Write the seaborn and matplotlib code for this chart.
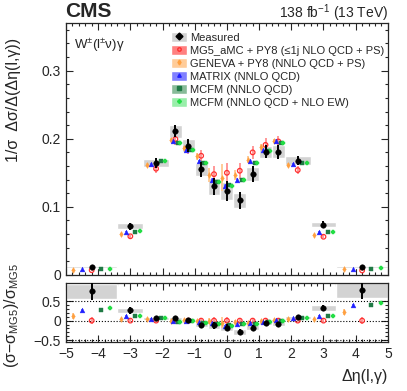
import seaborn as sns
import matplotlib.pyplot as plt
import numpy as np
from matplotlib.patches import Patch
from matplotlib.lines import Line2D
from matplotlib.ticker import MultipleLocator

# bin edges in delta eta(l, gamma)
edges = [-5, -3.4, -2.6, -1.8, -1.4, -1.0, -0.6, -0.2, 0.2, 0.6, 1.0, 1.4, 1.8, 2.6, 3.4, 5]

meas = [0.0121, 0.0715, 0.1645, 0.211, 0.190, 0.155, 0.130, 0.123, 0.1095, 0.148, 0.181, 0.181, 0.168, 0.074, 0.0116]
meas_err = [0.0015, 0.005, 0.0075, 0.009, 0.0095, 0.011, 0.013, 0.0145, 0.0125, 0.0115, 0.0095, 0.0105, 0.007, 0.0045, 0.0015]
meas_sys = [0.0013, 0.004, 0.006, 0.0095, 0.009, 0.010, 0.012, 0.0135, 0.0115, 0.0105, 0.009, 0.010, 0.006, 0.004, 0.0013]

mg5 = [0.0069, 0.0567, 0.156, 0.1995, 0.186, 0.175, 0.148, 0.150, 0.153, 0.180, 0.191, 0.196, 0.154, 0.056, 0.0065]
mg5_err = [0.0006, 0.002, 0.006, 0.008, 0.008, 0.009, 0.012, 0.015, 0.012, 0.010, 0.010, 0.008, 0.006, 0.002, 0.0006]
geneva = [0.0077, 0.0595, 0.161, 0.198, 0.187, 0.174, 0.147, 0.1426, 0.147, 0.169, 0.188, 0.197, 0.161, 0.058, 0.0079]
geneva_err = [0.0005, 0.0015, 0.003, 0.003, 0.003, 0.005, 0.010, 0.020, 0.007, 0.005, 0.004, 0.003, 0.003, 0.0015, 0.0005]
matrix = [0.0088, 0.0635, 0.163, 0.197, 0.184, 0.167, 0.140, 0.131, 0.140, 0.167, 0.1835, 0.197, 0.163, 0.063, 0.0091]
matrix_err = [0.0002, 0.001, 0.002, 0.002, 0.002, 0.002, 0.002, 0.002, 0.002, 0.002, 0.002, 0.002, 0.002, 0.001, 0.0002]
mcfm = [0.0088, 0.0635, 0.168, 0.1937, 0.184, 0.165, 0.136, 0.132, 0.140, 0.165, 0.1825, 0.194, 0.1645, 0.063, 0.0091]
mcfm_err = [0.0002, 0.001, 0.002, 0.002, 0.002, 0.003, 0.003, 0.003, 0.003, 0.003, 0.002, 0.002, 0.002, 0.001, 0.0002]
mcfm_ew = [0.0091, 0.064, 0.168, 0.1937, 0.184, 0.165, 0.136, 0.131, 0.139, 0.165, 0.1825, 0.194, 0.1645, 0.063, 0.0094]
mcfm_ew_err = [0.0002, 0.001, 0.002, 0.002, 0.002, 0.003, 0.003, 0.003, 0.003, 0.003, 0.002, 0.002, 0.002, 0.001, 0.0002]

labels = ["MG5_aMC + PY8 (≤1j NLO QCD + PS)", "GENEVA + PY8 (NNLO QCD + PS)",
          "MATRIX (NNLO QCD)", "MCFM (NNLO QCD)", "MCFM (NNLO QCD + NLO EW)"]

sns.set_style("ticks")
plt.rcParams['font.family'] = ['Liberation Sans', 'DejaVu Sans']
plt.rcParams['mathtext.fontset'] = 'custom'
plt.rcParams['mathtext.rm'] = 'Liberation Sans'
plt.rcParams['mathtext.it'] = 'Liberation Sans'

edges = np.array(edges)
centers = 0.5 * (edges[1:] + edges[:-1])
widths = edges[1:] - edges[:-1]
meas = np.array(meas); meas_err = np.array(meas_err); meas_sys = np.array(meas_sys)
mg5 = np.array(mg5)

# (values, errors, offset fraction of bin width, marker, colour, errbar colour, legend patch, size, open)
models = [
    (mg5, mg5_err, 0.0, 'o', '#ff3030', '#ff9090', '#ff8080', 11, True),
    (geneva, geneva_err, -0.36, 'd', '#ffa040', '#ffc890', '#ffcc99', 9, False),
    (matrix, matrix_err, -0.18, '^', '#2020ff', '#8080ff', '#8080ff', 12, False),
    (mcfm, mcfm_err, 0.18, 's', '#1f7a45', '#7fbf99', '#88bb99', 8, False),
    (mcfm_ew, mcfm_ew_err, 0.36, 'P', '#22dd44', '#88ee99', '#99eeaa', 10, False),
]

fig = plt.figure(figsize=(4.07, 3.91), dpi=100)
ax1 = fig.add_axes([0.162, 0.297, 0.791, 0.644])
ax2 = fig.add_axes([0.162, 0.125, 0.791, 0.151])

# ratio dotted lines
for yl in [-0.5, 0, 0.5]:
    ax2.axhline(yl, color='black', linestyle=':', linewidth=0.8, zorder=1)

# systematic boxes
ax1.bar(centers, 2 * meas_sys, width=widths, bottom=meas - meas_sys, color='#d3d3d3', zorder=1)
r_lo = (meas - meas_sys) / mg5 - 1
r_hi = (meas + meas_sys) / mg5 - 1
ax2.bar(centers, r_hi - r_lo, width=widths, bottom=r_lo, color='#d3d3d3', zorder=1)

for vals, errs, frac, mk, col, ecol, pcol, sz, opn in models:
    vals = np.array(vals); errs = np.array(errs)
    xs = centers + frac * widths
    ratio = vals / mg5 - 1
    for ax, yy, ee in [(ax1, vals, errs), (ax2, ratio, errs / mg5)]:
        ax.errorbar(xs, yy, yerr=ee, fmt='none', ecolor=ecol, elinewidth=1.3, zorder=2)
        if opn:
            sns.scatterplot(x=xs, y=yy, marker=mk, s=sz, facecolor='none', edgecolor=col,
                            linewidth=0.9, ax=ax, zorder=3)
        else:
            sns.scatterplot(x=xs, y=yy, marker=mk, s=sz, color=col, edgecolor=col,
                            linewidth=0.3, ax=ax, zorder=3)

# measured
ax1.errorbar(centers, meas, yerr=meas_err, fmt='none', ecolor='black', elinewidth=1.4, zorder=4)
sns.scatterplot(x=centers, y=meas, marker='o', s=16, color='black', edgecolor='black', ax=ax1, zorder=5)
meas_r = meas / mg5 - 1
ax2.errorbar(centers, meas_r, yerr=meas_err / mg5, fmt='none', ecolor='black', elinewidth=1.4, zorder=4)
sns.scatterplot(x=centers, y=meas_r, marker='o', s=16, color='black', edgecolor='black', ax=ax2, zorder=5)

# axes styling
for ax in [ax1, ax2]:
    ax.set_xlim(-5, 5)
    ax.xaxis.set_major_locator(MultipleLocator(1))
    ax.xaxis.set_minor_locator(MultipleLocator(0.2))
    ax.tick_params(which='both', direction='in', top=True, right=True, labelsize=10, width=0.8)
    ax.tick_params(which='major', length=5)
    ax.tick_params(which='minor', length=2.5)
    for sp in ax.spines.values():
        sp.set_linewidth(0.9)

ax1.set_ylim(0, 0.37)
ax1.yaxis.set_major_locator(MultipleLocator(0.1))
ax1.yaxis.set_minor_locator(MultipleLocator(0.02))
ax1.set_yticks([0, 0.1, 0.2, 0.3])
ax1.set_yticklabels(['0', '0.1', '0.2', '0.3'])
ax1.tick_params(labelbottom=False)

ax2.set_ylim(-0.55, 0.96)
ax2.set_yticks([-0.5, 0, 0.5])
ax2.set_yticklabels(['\u22120.5', '0', '0.5'])
ax2.yaxis.set_minor_locator(MultipleLocator(0.1))
ax2.set_xticks(range(-5, 6))
ax2.set_xticklabels([str(v).replace('-', '\u2212') for v in range(-5, 6)])

ax1.set_ylabel('1/σ  Δσ/Δ(Δη(l,γ))', fontsize=11.5, loc='top')
ax1.yaxis.set_label_coords(-0.14, 0.94)
ax2.set_ylabel('(σ\u2212σ$_{\\mathrm{MG5}}$)/σ$_{\\mathrm{MG5}}$', fontsize=11.5)
ax2.yaxis.set_label_coords(-0.14, 0.45)
ax2.set_xlabel('Δη(l,γ)', fontsize=11.5, loc='right')
ax2.xaxis.set_label_coords(1.0, -0.45)

fig.text(0.160, 0.956, 'CMS', fontsize=15, fontweight='bold', ha='left', va='baseline')
fig.text(0.953, 0.955, '138 fb$^{-1}$ (13 TeV)', fontsize=10, ha='right', va='baseline')
ax1.text(0.025, 0.91, 'W$^{\\pm}$(l$^{\\pm}$ν)γ', transform=ax1.transAxes, fontsize=9.5, va='center')

handles = [(Patch(facecolor='#d3d3d3'), Line2D([], [], marker='D', color='black', linestyle='none', markersize=3.5))]
for vals, errs, frac, mk, col, ecol, pcol, sz, opn in models:
    handles.append((Patch(facecolor=pcol),
                    Line2D([], [], marker=mk, color=col, linestyle='none', markersize=2.5,
                           markerfacecolor='none' if opn else col)))
ax1.legend(handles, ['Measured'] + labels, loc='upper left', bbox_to_anchor=(0.325, 0.965),
           frameon=False, fontsize=8, handlelength=1.45, handleheight=1.0,
           handletextpad=0.3, labelspacing=0.2, borderaxespad=0, borderpad=0)

fig.savefig('out.png', dpi=100)
